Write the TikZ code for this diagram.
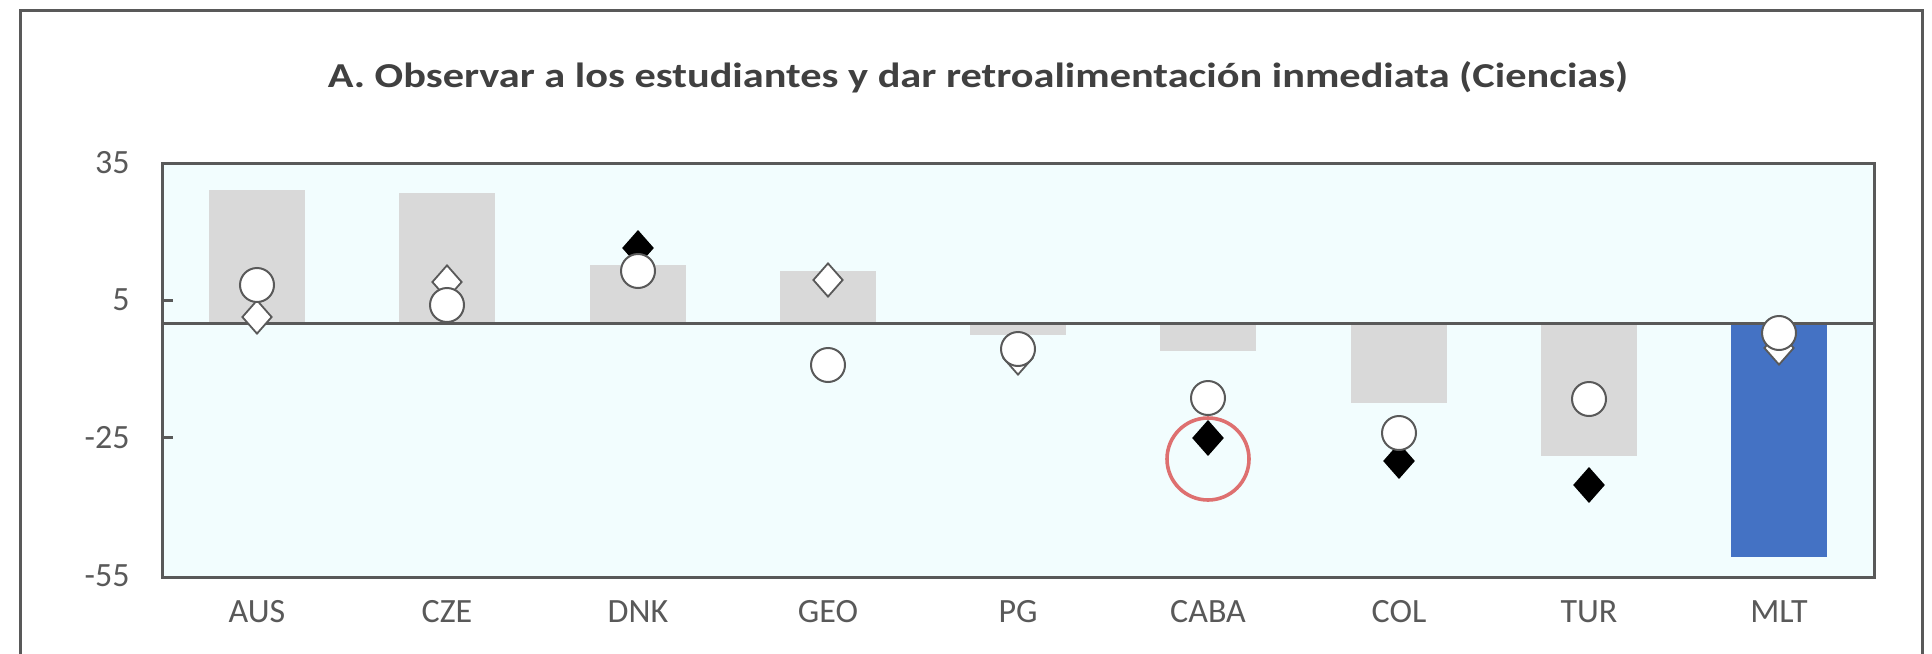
\documentclass[tikz,border=0pt]{standalone}
\usepackage{fontspec}
\setmainfont{Carlito}
\usetikzlibrary{shapes.geometric}
\definecolor{axisgray}{HTML}{595959}
\definecolor{plotbg}{RGB}{242,253,254}
\definecolor{bargray}{HTML}{D9D9D9}
\definecolor{mltblue}{HTML}{4472C4}
\definecolor{hlred}{RGB}{222,112,112}
\definecolor{textgray}{HTML}{595959}
\definecolor{titlegray}{HTML}{404040}
\begin{document}
\begin{tikzpicture}[x=0.5pt,y=-0.5pt,
  lbl/.style={text=textgray,font=\fontsize{17}{20}\selectfont,inner sep=0},
  ttl/.style={text=titlegray,font=\bfseries\fontsize{17.5}{20}\selectfont,inner sep=0,xscale=1.21},
  framestyle/.style={draw=axisgray,line width=1.5pt},
  bar/.style={fill=bargray},
  circmark/.style={circle,draw=axisgray,fill=white,line width=1pt,minimum size=17pt,inner sep=0},
  dmdwhite/.style={diamond,draw=axisgray,fill=white,line width=0.9pt,minimum width=15pt,minimum height=17pt,inner sep=0},
  dmdblack/.style={diamond,draw=black,fill=black,line width=0.9pt,minimum width=15pt,minimum height=17pt,inner sep=0},
  highlight/.style={circle,draw=hlred,line width=1.8pt,minimum size=41pt,inner sep=0}]
\useasboundingbox (0,0) rectangle (1932,653);
\clip (0,0) rectangle (1932,653);
\fill[white] (0,0) rectangle (1932,653);
% outer frame
\draw[framestyle] (20,700) -- (20,10) -- (1922,10) -- (1922,700);
% title
\node[ttl] (title) at (978,77) {A. Observar a los estudiantes y dar retroalimentación inmediata (Ciencias)};
% plot area
\fill[plotbg] (162,163) rectangle (1874,577);
% bars
\fill[bar] (209,190) rectangle (305,323);
\fill[bar] (399,193) rectangle (495,323);
\fill[bar] (590,265) rectangle (686,323);
\fill[bar] (780,271) rectangle (876,323);
\fill[bar] (970,323) rectangle (1066,335);
\fill[bar] (1160,323) rectangle (1256,351);
\fill[bar] (1351,323) rectangle (1447,403);
\fill[bar] (1541,323) rectangle (1637,456);
\fill[mltblue] (1731,323) rectangle (1827,557);
% zero line
\draw[draw=axisgray,line width=1.5pt] (162,323) -- (1874,323);
% ticks
\draw[draw=axisgray,line width=1.5pt] (162,300) -- (173,300);
\draw[draw=axisgray,line width=1.5pt] (162,437) -- (173,437);
% plot frame
\draw[framestyle] (162,163) rectangle (1874,577);
% y labels
\node[lbl,anchor=east] (y35) at (130,163) {35};
\node[lbl,anchor=east] (y5) at (130,300) {5};
\node[lbl,anchor=east] (ym25) at (130,438) {-25};
\node[lbl,anchor=east] (ym55) at (130,576) {-55};
% x labels
\node[lbl] (xAUS) at (257,612) {AUS};
\node[lbl] (xCZE) at (447,612) {CZE};
\node[lbl] (xDNK) at (638,612) {DNK};
\node[lbl] (xGEO) at (828,612) {GEO};
\node[lbl] (xPG) at (1018,612) {PG};
\node[lbl] (xCABA) at (1208,612) {CABA};
\node[lbl] (xCOL) at (1399,612) {COL};
\node[lbl] (xTUR) at (1589,612) {TUR};
\node[lbl] (xMLT) at (1779,612) {MLT};
% diamonds
\node[dmdwhite] (dAUS) at (257,317) {};
\node[dmdwhite] (dCZE) at (447,282) {};
\node[dmdblack] (dDNK) at (638,248) {};
\node[dmdwhite] (dGEO) at (828,280) {};
\node[dmdwhite] (dPG) at (1018,358) {};
\node[dmdblack] (dCABA) at (1208,438) {};
\node[dmdblack] (dCOL) at (1399,461) {};
\node[dmdblack] (dTUR) at (1589,485) {};
\node[dmdwhite] (dMLT) at (1779,348) {};
% circles
\node[circmark] (cAUS) at (257,285) {};
\node[circmark] (cCZE) at (447,305) {};
\node[circmark] (cDNK) at (638,271) {};
\node[circmark] (cGEO) at (828,365) {};
\node[circmark] (cPG) at (1018,349) {};
\node[circmark] (cCABA) at (1208,398) {};
\node[circmark] (cCOL) at (1399,433) {};
\node[circmark] (cTUR) at (1589,399) {};
\node[circmark] (cMLT) at (1779,333) {};
% highlight
\node[highlight] (hl) at (1208,459) {};
\end{tikzpicture}
\end{document}
